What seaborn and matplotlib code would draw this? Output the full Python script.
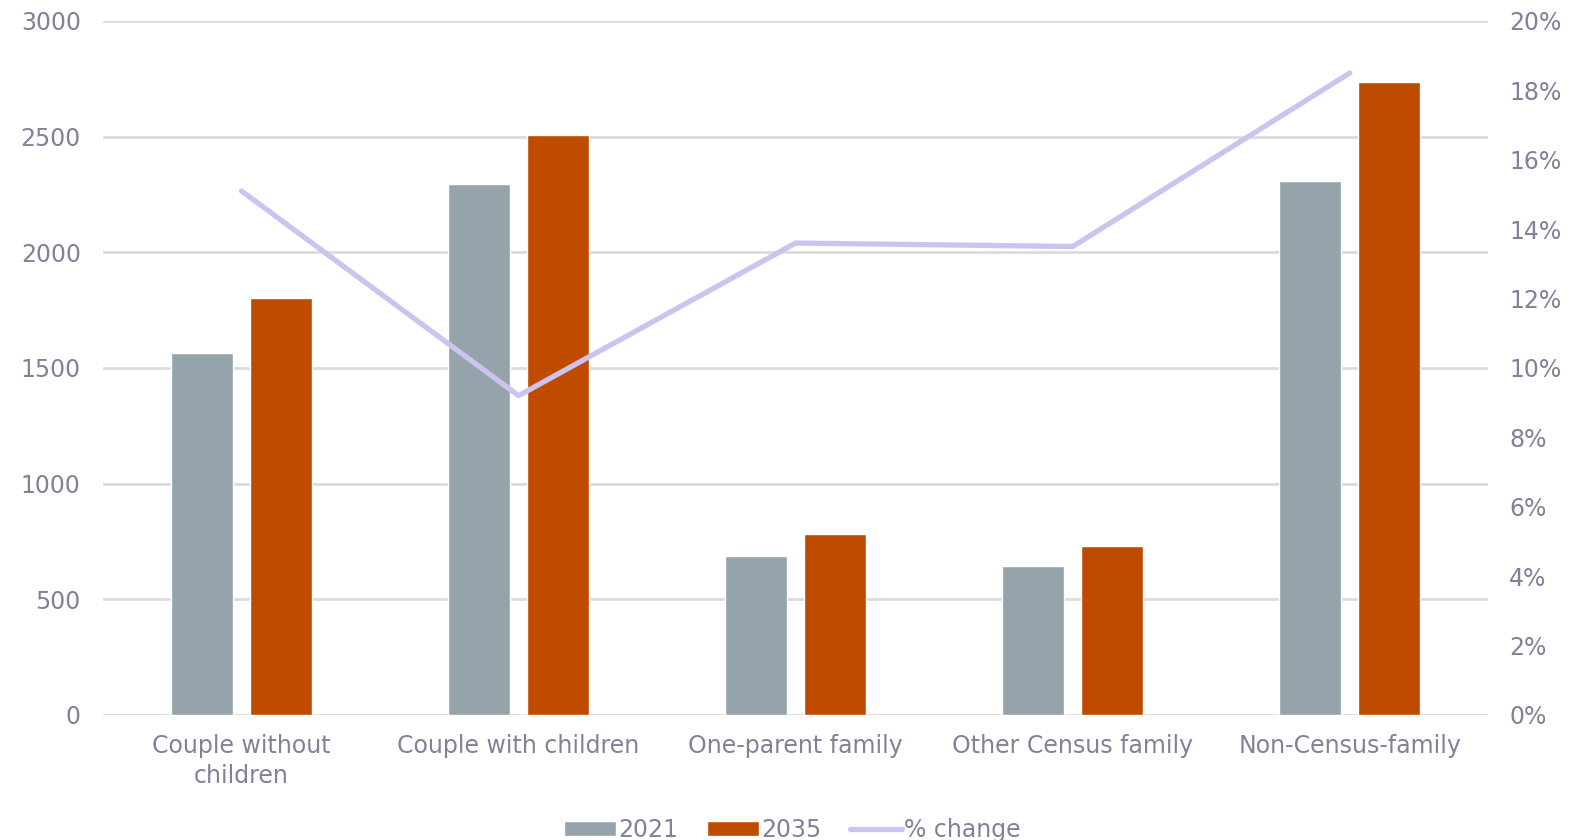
import numpy as np
import pandas as pd
import matplotlib
matplotlib.use("Agg")
import matplotlib.pyplot as plt
import seaborn as sns
from matplotlib.patches import Patch
from matplotlib.lines import Line2D
from matplotlib.ticker import FuncFormatter

categories = ["Couple without\nchildren", "Couple with children", "One-parent family",
              "Other Census family", "Non-Census-family"]
values_2021 = [1566, 2296, 687, 643, 2309]
values_2035 = [1802, 2506, 783, 730, 2736]
pct_change = [15.1, 9.2, 13.6, 13.5, 18.5]
years = ["2021", "2035"]

c2021 = "#95A3AB"
c2035 = "#BE4B00"
cline = "#CBC3F0"
txt = "#838097"
grid = "#DADAE0"
fs = 17

sns.set_theme(style="white")
plt.rcParams["font.family"] = ["DejaVu Sans"]

df = pd.DataFrame({
    "category": categories * 2,
    "year": [years[0]] * len(categories) + [years[1]] * len(categories),
    "value": values_2021 + values_2035,
})

fig = plt.figure(figsize=(15.85, 8.4), dpi=100)
ax = fig.add_axes([0.065, 0.149, 0.874, 0.826])
sns.barplot(data=df, x="category", y="value", hue="year", order=categories,
            hue_order=years, palette=[c2021, c2035], width=0.57, gap=0.21,
            saturation=1, ax=ax, legend=False)
ax.set_ylim(0, 3000)
ax.set_yticks(np.arange(0, 3001, 500))
ax.set_xlim(-0.5, len(categories) - 0.5)
ax.yaxis.grid(True, color=grid, linewidth=2)
ax.set_axisbelow(True)
for s in ax.spines.values():
    s.set_visible(False)
ax.set_xlabel("")
ax.set_ylabel("")
ax.tick_params(axis="both", length=0, labelsize=fs, labelcolor=txt)
ax.tick_params(axis="x", pad=14)
ax.tick_params(axis="y", pad=16)
for lab in ax.get_xticklabels():
    lab.set_linespacing(1.3)

ax2 = ax.twinx()
sns.lineplot(x=np.arange(len(categories)), y=pct_change, ax=ax2, color=cline,
             linewidth=3.8, solid_capstyle="round")
ax2.set_ylim(0, 20)
ax2.set_yticks(np.arange(0, 21, 2))
ax2.yaxis.set_major_formatter(FuncFormatter(lambda v, p: f"{v:.0f}%"))
for s in ax2.spines.values():
    s.set_visible(False)
ax2.tick_params(axis="y", length=0, labelsize=fs, labelcolor=txt, pad=15)
ax2.set_ylabel("")

handles = [Patch(facecolor=c2021, label="2021"),
           Patch(facecolor=c2035, label="2035"),
           Line2D([0], [0], color=cline, linewidth=3.8, label="% change")]
leg = fig.legend(handles=handles, loc="center", bbox_to_anchor=(0.5, 0.012), ncol=3,
                 frameon=False, fontsize=fs, handlelength=2.2, handleheight=0.6,
                 handletextpad=0.1, columnspacing=1.2)
for t in leg.get_texts():
    t.set_color(txt)

fig.savefig("out.png", dpi=100)
